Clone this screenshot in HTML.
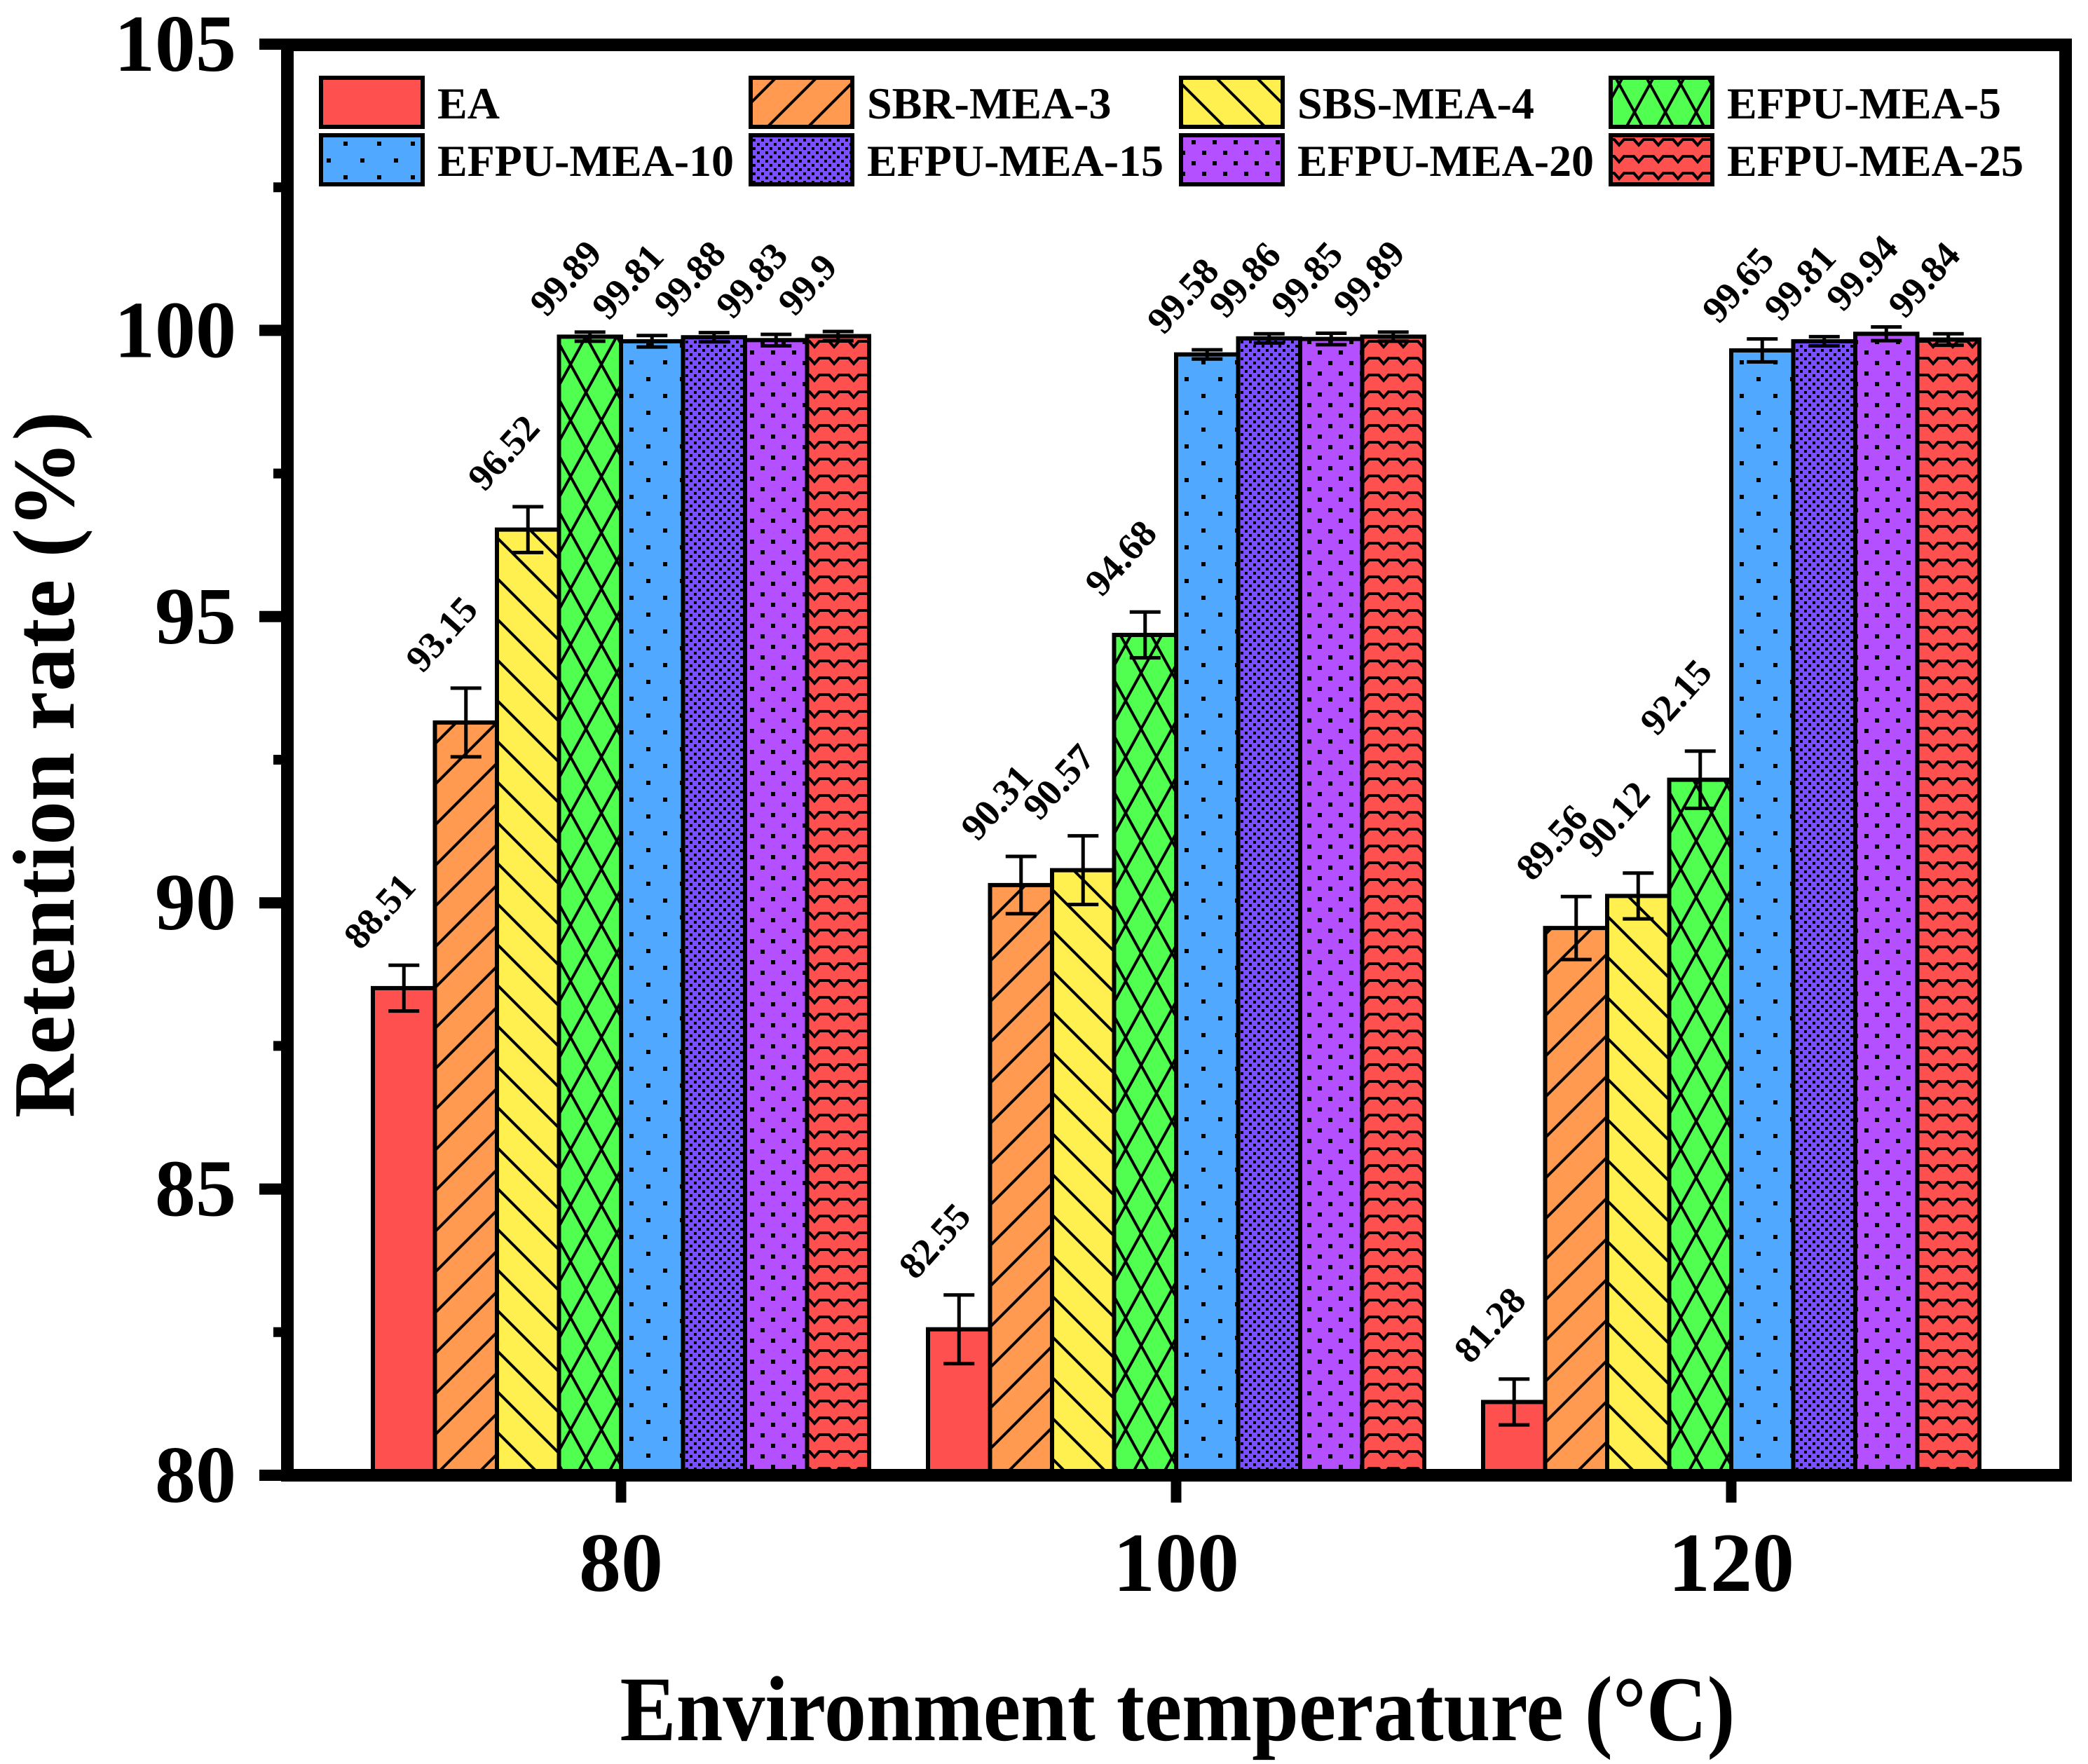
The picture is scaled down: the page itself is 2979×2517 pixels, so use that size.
<!DOCTYPE html>
<html><head><meta charset="utf-8"><style>
html,body{margin:0;padding:0;background:#fff;}
svg{display:block;font-family:"Liberation Serif",serif;font-weight:bold;}
</style></head><body>
<svg id="chart" xmlns="http://www.w3.org/2000/svg" width="2979" height="2517" viewBox="0 0 2979 2517">
<defs>
<pattern id="p0" patternUnits="userSpaceOnUse" width="20" height="20"><rect width="20" height="20" fill="#FF5050"/></pattern>
<pattern id="p1" patternUnits="userSpaceOnUse" width="58" height="58"><rect width="58" height="58" fill="#FF9A50"/><path d="M-5,63 L63,-5 M-5,5 L5,-5 M53,63 L63,53" stroke="#000" stroke-width="4"/></pattern>
<pattern id="p2" patternUnits="userSpaceOnUse" width="58" height="58"><rect width="58" height="58" fill="#FFF050"/><path d="M-5,-5 L63,63 M53,-5 L63,5 M-5,53 L5,63" stroke="#000" stroke-width="4"/></pattern>
<pattern id="p3" patternUnits="userSpaceOnUse" width="44" height="80"><rect width="44" height="80" fill="#50FF50"/><path d="M0,0 L44,80 M44,0 L0,80" stroke="#000" stroke-width="4"/></pattern>
<pattern id="p4" patternUnits="userSpaceOnUse" width="48" height="48"><rect width="48" height="48" fill="#50A8FF"/><rect x="10" y="10" width="6" height="6" fill="#000"/><rect x="34" y="34" width="6" height="6" fill="#000"/></pattern>
<pattern id="p5" patternUnits="userSpaceOnUse" width="12" height="12"><rect width="12" height="12" fill="#7B4FFF"/><rect x="0" y="0" width="4" height="4" fill="#000"/><rect x="6" y="6" width="4" height="4" fill="#000"/></pattern>
<pattern id="p6" patternUnits="userSpaceOnUse" width="30" height="30"><rect width="30" height="30" fill="#B450FF"/><rect x="5" y="5" width="6" height="6" fill="#000"/><rect x="20" y="20" width="6" height="6" fill="#000"/></pattern>
<pattern id="p7" patternUnits="userSpaceOnUse" width="28" height="24"><rect width="28" height="24" fill="#FF5050"/><path d="M0,7 L7,7 L14,15 L21,7 L28,7" stroke="#000" stroke-width="4" fill="none"/></pattern>
</defs>
<g id="bars"></g>
<g id="errs"></g>
<g id="vals"></g>
<g id="legend"></g>
<g id="axes"></g>
</svg>
<script>
const categories = [80, 100, 120];
const seriesNames = ["EA","SBR-MEA-3","SBS-MEA-4","EFPU-MEA-5","EFPU-MEA-10","EFPU-MEA-15","EFPU-MEA-20","EFPU-MEA-25"];
const vals80  = [88.51, 93.15, 96.52, 99.89, 99.81, 99.88, 99.83, 99.9];
const vals100 = [82.55, 90.31, 90.57, 94.68, 99.58, 99.86, 99.85, 99.89];
const vals120 = [81.28, 89.56, 90.12, 92.15, 99.65, 99.81, 99.94, 99.84];
const err80  = [0.4, 0.6, 0.4, 0.08, 0.1, 0.08, 0.1, 0.08];
const err100 = [0.6, 0.5, 0.6, 0.4, 0.08, 0.08, 0.1, 0.08];
const err120 = [0.4, 0.55, 0.4, 0.5, 0.2, 0.08, 0.12, 0.1];
const labels80  = ["88.51","93.15","96.52","99.89","99.81","99.88","99.83","99.9"];
const labels100 = ["82.55","90.31","90.57","94.68","99.58","99.86","99.85","99.89"];
const labels120 = ["81.28","89.56","90.12","92.15","99.65","99.81","99.94","99.84"];
const yTicks = [80, 85, 90, 95, 100, 105];
const yMinor = [82.5, 87.5, 92.5, 97.5, 102.5];

const NS = "http://www.w3.org/2000/svg";
const Y0 = 2105, YPU = 81.68, X80 = 886, XPU = 39.6, BW = 88.5;
function yS(v){ return Y0 - (v - 80) * YPU; }
function xS(c){ return X80 + (c - 80) * XPU; }
function mk(tag, attrs, parent){ const e = document.createElementNS(NS, tag); for (const k in attrs) e.setAttribute(k, attrs[k]); parent.appendChild(e); return e; }
const gb = document.getElementById('bars'), ge = document.getElementById('errs'), gv = document.getElementById('vals'), gl = document.getElementById('legend'), ga = document.getElementById('axes');
const allVals = [vals80, vals100, vals120], allErr = [err80, err100, err120], allLab = [labels80, labels100, labels120];

categories.forEach((c, ci) => {
  const cx = xS(c);
  allVals[ci].forEach((v, i) => {
    const x = cx - 4 * BW + i * BW;
    const r = mk('rect', {x: x, y: yS(v), width: BW, height: Y0 - yS(v), fill: 'url(#p' + i + ')', stroke: '#000', 'stroke-width': 6}, gb);
    
    
    const bx = x + BW / 2, e = allErr[ci][i];
    const eg = mk('path', {d: 'M' + bx + ',' + yS(v + e) + 'V' + yS(v - e) + 'M' + (bx - 22) + ',' + yS(v + e) + 'H' + (bx + 22) + 'M' + (bx - 22) + ',' + yS(v - e) + 'H' + (bx + 22), stroke: '#000', 'stroke-width': 5, fill: 'none'}, ge);
    
    
    const lx = bx - 62, ly = yS(v + e) - 20;
    const t = mk('text', {x: lx, y: ly, 'font-size': 54, transform: 'rotate(-48 ' + lx + ' ' + ly + ')'}, gv);
    t.textContent = allLab[ci][i];
    
    
  });
});

const legX = [458, 1071, 1685, 2298], legY = [111, 193];
seriesNames.forEach((n, i) => {
  const col = i % 4, row = Math.floor(i / 4);
  const g = mk('g', {}, gl);
  
  
  mk('rect', {x: legX[col], y: legY[row], width: 145, height: 70, fill: 'url(#p' + i + ')', stroke: '#000', 'stroke-width': 6}, g);
  const t = mk('text', {x: legX[col] + 166, y: legY[row] + 58, 'font-size': 64}, g);
  t.textContent = n;
});

const f1 = mk('path', {d: 'M410,55 V2113 M401,2105 H2956 M401,64 H2956 M2947,55 V2113', stroke: '#000', 'stroke-width': 18, fill: 'none'}, ga);


yTicks.forEach(v => {
  const tk = mk('path', {d: 'M370,' + yS(v) + 'H410', stroke: '#000', 'stroke-width': 16}, ga);
  
  
  const t = mk('text', {x: 337, y: yS(v) + 38, 'font-size': 116, 'text-anchor': 'end'}, ga);
  t.textContent = v;
  
  
});
yMinor.forEach(v => {
  const tk = mk('path', {d: 'M390,' + yS(v) + 'H410', stroke: '#000', 'stroke-width': 14}, ga);
  
  
});
categories.forEach(c => {
  const tk = mk('path', {d: 'M' + xS(c) + ',2105V2144', stroke: '#000', 'stroke-width': 15}, ga);
  
  
  const t = mk('text', {x: xS(c), y: 2270, 'font-size': 120, 'text-anchor': 'middle'}, ga);
  t.textContent = c;
  
  
});
const xt = mk('text', {x: 1680, y: 2483, 'font-size': 132, 'text-anchor': 'middle', textLength: 1591, lengthAdjust: 'spacingAndGlyphs'}, ga);
xt.textContent = 'Environment temperature (°C)';


const yt = mk('text', {x: 0, y: 0, 'font-size': 125, 'text-anchor': 'middle', textLength: 1008, lengthAdjust: 'spacingAndGlyphs', transform: 'translate(105,1091) rotate(-90)'}, ga);
yt.textContent = 'Retention rate (%)';


</script>
</body></html>
